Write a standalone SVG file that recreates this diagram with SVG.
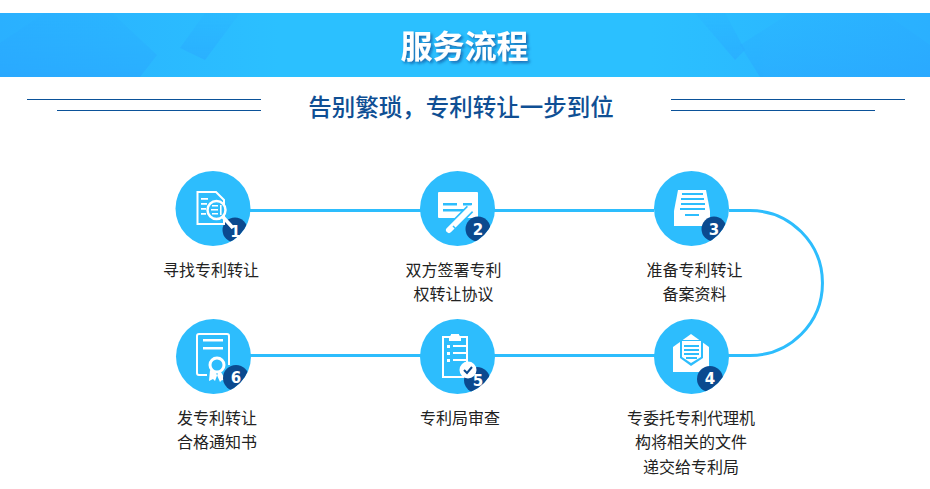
<svg xmlns="http://www.w3.org/2000/svg" width="930" height="489" viewBox="0 0 930 489">
<defs>
<linearGradient id="hdr" x1="0" y1="0" x2="1" y2="0">
<stop offset="0" stop-color="#2ab0ff"/><stop offset="0.3" stop-color="#2bc0ff"/><stop offset="0.7" stop-color="#2bc0ff"/><stop offset="1" stop-color="#2ab0ff"/>
</linearGradient>
<linearGradient id="fac" x1="0" y1="0" x2="0" y2="1">
<stop offset="0" stop-color="#2aa4ff" stop-opacity="0.2"/><stop offset="1" stop-color="#2a9cff" stop-opacity="0.7"/>
</linearGradient>
<filter id="sh" x="-10%" y="-20%" width="125%" height="150%"><feDropShadow dx="2" dy="2" stdDeviation="1.5" flood-color="#0a4f9a" flood-opacity="0.75"/></filter>
<clipPath id="c1"><circle cx="213" cy="208.5" r="37.5"/></clipPath>
<clipPath id="c2"><circle cx="457.5" cy="208.5" r="37.5"/></clipPath>
<clipPath id="c3"><circle cx="691.5" cy="208.5" r="37.5"/></clipPath>
<clipPath id="c4"><circle cx="691.5" cy="356.5" r="37.5"/></clipPath>
<clipPath id="c5"><circle cx="457.5" cy="356.5" r="37.5"/></clipPath>
<clipPath id="c6"><circle cx="213.5" cy="356.5" r="37.5"/></clipPath>
</defs>
<style>
.disc{fill:#2dbdfd}
.badge{fill:#0b4a8f}
.num{font:bold 15px "DejaVu Sans","Liberation Sans",sans-serif;fill:#fff;text-anchor:middle}
.lbl{font:16px "Noto Sans CJK SC",sans-serif;fill:#222;text-anchor:middle}
.w{fill:#fff}
.o{fill:none;stroke:#fff;stroke-width:2}
.b{fill:#2dbdfd}
.rule{stroke:#0b5299;stroke-width:1}
.conn{fill:none;stroke:#2dbdfd;stroke-width:3}
</style>
<g id="header">
<rect x="0" y="13" width="930" height="64" fill="url(#hdr)"/>
<g fill="url(#fac)" opacity="0.5">
<polygon points="45,13 112,13 157,55 140,77 0,77 0,43"/>
<polygon points="205,13 180,48 205,60 240,13"/>
<polygon points="760,77 740,45 790,13 885,13 930,45 930,77"/>
<polygon points="725,13 745,50 735,60 695,13"/>
</g>
<text x="464.500" y="58" font-family="'Noto Sans CJK SC',sans-serif" font-weight="700" font-size="32" fill="#fff" text-anchor="middle" filter="url(#sh)">服务流程</text>
</g>
<g id="subtitle">
<line class="rule" x1="27" y1="99.500" x2="261" y2="99.500"/>
<line class="rule" x1="57" y1="110.500" x2="261" y2="110.500"/>
<line class="rule" x1="671" y1="99.500" x2="905" y2="99.500"/>
<line class="rule" x1="671" y1="110.500" x2="875" y2="110.500"/>
<text x="461" y="116" font-family="'Noto Sans CJK SC',sans-serif" font-weight="500" font-size="23.500" fill="#0f4f94" text-anchor="middle">告别繁琐，专利转让一步到位</text>
</g>
<g id="connectors">
<path class="conn" d="M250 210.500H654M729 210.500H750A72.500 72.500 0 0 1 750 355.500H250"/>
</g>
<g id="node1">
<circle class="disc" cx="213" cy="208.500" r="37.500"/>
<circle class="badge" cx="235" cy="230" r="12.500" clip-path="url(#c1)"/>
<path class="o" d="M197.500 192H216L224 200V224H197.500Z"/>
<path class="w" d="M201 198h7v1.800h-7zM201 203h6v1.800h-6zM201 208h5v1.800h-5zM201 213h5v1.800h-5z"/>
<circle cx="216.500" cy="210" r="9" fill="#2dbdfd" stroke="#fff" stroke-width="2.500"/>
<path class="w" d="M212 205h6v1.500h-6zM211 209h7v1.500h-7zM212 213h6v1.500h-6zM220 205h1.600v10h-1.600z"/>
<path d="M223 217L233 228" stroke="#fff" stroke-width="3.500"/>
<text class="num" x="235.500" y="236.500">1</text>
</g>
<g id="node2">
<circle class="disc" cx="457.500" cy="208.500" r="37.500"/>
<rect class="w" x="438" y="192" width="40" height="26" rx="1"/>
<path class="b" d="M443 203h14v2.500h-14zM443 209h22v2.500h-22zM463 203h9v2.500h-9z"/>
<path d="M449 230L470 209" stroke="#2dbdfd" stroke-width="9"/>
<path d="M449 230L470 209" stroke="#fff" stroke-width="6" stroke-linecap="round"/>
<path d="M470 209L473 206" stroke="#fff" stroke-width="3"/>
<path d="M453 226L457 230" stroke="#2dbdfd" stroke-width="1.500"/>
<circle class="badge" cx="478" cy="229" r="12.500" clip-path="url(#c2)"/>
<text class="num" x="478" y="234.500">2</text>
</g>
<g id="node3">
<circle class="disc" cx="691.500" cy="208.500" r="37.500"/>
<path class="w" d="M678 190H706L710 211V226H674V211Z"/>
<path class="b" d="M682 193h21v2h-21zM681 198h23v2h-23zM681 203h24v2h-24zM680 208h25v2h-25zM685 214h14v2h-14z"/>
<circle class="badge" cx="714" cy="229" r="12.500" clip-path="url(#c3)"/>
<text class="num" x="714" y="234.500">3</text>
</g>
<g id="node4">
<circle class="disc" cx="691.500" cy="356.500" r="37.500"/>
<path class="w" d="M691 334L709 347V372H673V347Z"/>
<path class="b" d="M680 340H703V358L691 366L680 358Z"/>
<path class="w" d="M682 341H701V357L691 363L682 357Z"/>
<path class="b" d="M684 345h15v2h-15zM684 349h15v2h-15zM684 353h15v2h-15zM686 357h11v2h-11z"/>
<circle class="badge" cx="710" cy="379" r="13" clip-path="url(#c4)"/>
<text class="num" x="710" y="384">4</text>
</g>
<g id="node5">
<circle class="disc" cx="457.500" cy="356.500" r="37.500"/>
<path class="o" d="M450 337H443V377H467V337H460"/>
<path class="w" d="M449 337l2-2v-1h8v1l2 2v4h-12z"/>
<path class="w" d="M447 345h3v3h-3zM453 345h15v2h-15zM447 352h3v3h-3zM453 352h15v2h-15zM447 359h3v3h-3zM453 359h15v2h-15z"/>
<circle class="badge" cx="477" cy="380" r="13" clip-path="url(#c5)"/>
<circle class="w" cx="468" cy="370" r="8.500"/>
<path d="M464 370l3 3 5-6" fill="none" stroke="#0b4a8f" stroke-width="2"/>
<text class="num" x="478" y="385.500">5</text>
</g>
<g id="node6">
<circle class="disc" cx="213.500" cy="356.500" r="37.500"/>
<path class="o" d="M207 375H199Q197 375 197 373V336Q197 334 199 334H227Q229 334 229 336V365"/>
<path class="w" d="M203 339h20v2.500h-20zM203 347h20v2.500h-20z"/>
<path class="w" d="M210 370L209 381L213 379L215 381L218 373ZM221 372L226 381L222 380L220 382L216 373Z"/>
<circle cx="217" cy="365" r="7" fill="#2dbdfd" stroke="#fff" stroke-width="3"/>
<circle class="badge" cx="236" cy="378" r="13" clip-path="url(#c6)"/>
<text class="num" x="236" y="383">6</text>
</g>
<g id="labels">
<text class="lbl" x="211" y="275.500">寻找专利转让</text>
<text class="lbl" x="453.500" y="275.500">双方签署专利</text>
<text class="lbl" x="453.500" y="300">权转让协议</text>
<text class="lbl" x="694.500" y="275.500">准备专利转让</text>
<text class="lbl" x="694.500" y="300">备案资料</text>
<text class="lbl" x="217" y="423.500">发专利转让</text>
<text class="lbl" x="217" y="448">合格通知书</text>
<text class="lbl" x="460" y="423.500">专利局审查</text>
<text class="lbl" x="691" y="423.500">专委托专利代理机</text>
<text class="lbl" x="691" y="448">构将相关的文件</text>
<text class="lbl" x="691" y="472.500">递交给专利局</text>
</g>
</svg>
